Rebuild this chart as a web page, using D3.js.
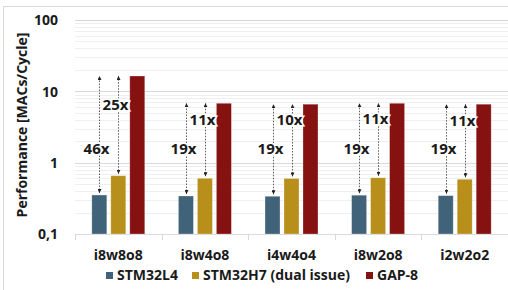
<!DOCTYPE html>
<html>
<head>
<meta charset="utf-8">
<script src="https://cdn.jsdelivr.net/npm/d3@7"></script>
<style>
  body { margin: 0; background: #fff; }
  text { font-family: "Open Sans", sans-serif; font-weight: bold; fill: #1a1a1a; }
</style>
</head>
<body>
<script>
var CATEGORIAS = ["i8w8o8", "i8w4o8", "i4w4o4", "i8w2o8", "i2w2o2"];
var SERIES = ["STM32L4", "STM32H7 (dual issue)", "GAP-8"];
var COLORES = ["#41637a", "#b88f1a", "#861111"];

var STM32L4 = [0.352, 0.341, 0.338, 0.35, 0.345];
var STM32H7 = [0.656, 0.604, 0.60, 0.614, 0.585];
var GAP8 = [16.4, 6.8, 6.6, 6.8, 6.6];

var RATIO_L4 = ["46x", "19x", "19x", "19x", "19x"];
var RATIO_H7 = ["25x", "11x", "10x", "11x", "11x"];

var Y_TICKS = [0.1, 1, 10, 100];
var Y_TICK_LABELS = ["0,1", "1", "10", "100"];

var width = 508, height = 290;
var margin = { top: 20, right: 0, bottom: 56, left: 75 };

var svg = d3.select("body").append("svg").attr("width", width).attr("height", height);

// marco del gráfico
svg.append("rect").attr("x", 3.5).attr("y", 6.5).attr("width", 600).attr("height", 400)
  .attr("fill", "none").attr("stroke", "#d9d9d9");

var x = d3.scaleBand().domain(CATEGORIAS).range([margin.left, width - margin.right]);
var xs = d3.scaleBand().domain(SERIES).range([0, x.bandwidth()]).paddingInner(0.21).paddingOuter(0.886);
var y = d3.scaleLog().domain([0.1, 100]).range([height - margin.bottom, margin.top]);

// grilla menor
var menores = [];
[0.1, 1, 10].forEach(function (d) {
  for (var k = 2; k <= 9; k++) menores.push(d * k);
});
svg.append("g").selectAll("line").data(menores).enter().append("line")
  .attr("x1", margin.left).attr("x2", width - margin.right)
  .attr("y1", function (d) { return Math.round(y(d)) + 0.5; })
  .attr("y2", function (d) { return Math.round(y(d)) + 0.5; })
  .attr("stroke", "#efefef");

// grilla mayor
svg.append("g").selectAll("line").data(Y_TICKS.slice(1)).enter().append("line")
  .attr("x1", margin.left).attr("x2", width - margin.right)
  .attr("y1", function (d) { return Math.round(y(d)) + 0.5; })
  .attr("y2", function (d) { return Math.round(y(d)) + 0.5; })
  .attr("stroke", "#d9d9d9");

// eje y
var yAxis = svg.append("g").attr("transform", "translate(" + (margin.left - 14) + ",0)")
  .call(d3.axisLeft(y).tickValues(Y_TICKS).tickSize(0).tickFormat(function (d, i) { return Y_TICK_LABELS[i]; }));
yAxis.select(".domain").remove();
yAxis.selectAll("text").attr("font-size", 14).attr("fill", "#1a1a1a").attr("dy", "0.35em");

// eje x
var xAxis = svg.append("g").attr("transform", "translate(0," + (height - margin.bottom) + ")")
  .call(d3.axisBottom(x).tickSize(0).tickPadding(16));
xAxis.select(".domain").attr("stroke", "#d9d9d9").attr("d", "M" + margin.left + ",0.5H" + (width - margin.right));
xAxis.selectAll("text").attr("font-size", 14).attr("fill", "#1a1a1a");
xAxis.selectAll(".sep").data(CATEGORIAS).enter().append("line").attr("class", "sep")
  .attr("x1", function (d) { return Math.round(x(d)) + 0.5; })
  .attr("x2", function (d) { return Math.round(x(d)) + 0.5; })
  .attr("y1", 0).attr("y2", 6).attr("stroke", "#d9d9d9");

// barras
var valores = [STM32L4, STM32H7, GAP8];
var filas = [];
CATEGORIAS.forEach(function (c, i) {
  SERIES.forEach(function (s, j) {
    filas.push({ cat: c, serie: s, color: COLORES[j], v: valores[j][i] });
  });
});
svg.append("g").selectAll("rect").data(filas).enter().append("rect")
  .attr("x", function (d) { return x(d.cat) + xs(d.serie); })
  .attr("y", function (d) { return y(d.v); })
  .attr("width", xs.bandwidth())
  .attr("height", function (d) { return y(0.1) - y(d.v); })
  .attr("fill", function (d) { return d.color; })
  .attr("stroke", "rgba(255,255,255,0.35)").attr("stroke-width", 0.8);

// flechas de aceleración
var defs = svg.append("defs");
defs.append("marker").attr("id", "punta").attr("viewBox", "0 0 10 10").attr("refX", 10).attr("refY", 5)
  .attr("markerWidth", 5).attr("markerHeight", 5).attr("orient", "auto-start-reverse")
  .append("path").attr("d", "M0,0L10,5L0,10z").attr("fill", "#222");

var flechas = svg.append("g");
CATEGORIAS.forEach(function (c, i) {
  var top = y(GAP8[i]);
  [[STM32L4, RATIO_L4, SERIES[0]], [STM32H7, RATIO_H7, SERIES[1]]].forEach(function (par, k) {
    var cx = Math.round(x(c) + xs(par[2]) + xs.bandwidth() / 2) + 0.5;
    flechas.append("line")
      .attr("x1", cx).attr("x2", cx)
      .attr("y1", y(par[0][i]) - 2).attr("y2", top)
      .attr("stroke", "#333").attr("stroke-width", 0.8).attr("stroke-dasharray", "1.5,1.5")
      .attr("marker-start", "url(#punta)").attr("marker-end", "url(#punta)");
    var ly = k === 0 ? y(1.55) : y(2 * Math.sqrt(GAP8[i] * par[0][i]));
    flechas.append("text").attr("x", cx - 3).attr("y", ly).attr("dy", "0.35em")
      .attr("text-anchor", "middle").attr("font-size", 15)
      .attr("stroke", "#fff").attr("stroke-width", 3).attr("paint-order", "stroke")
      .text(par[1][i]);
  });
});

// título eje y
svg.append("text").attr("transform", "translate(27," + 125 + ") rotate(-90)")
  .attr("text-anchor", "middle").attr("font-size", 14).text("Performance [MACs/Cycle]");

// leyenda
var leyendaX = [106, 192, 366];
var leyenda = svg.append("g").attr("transform", "translate(0,272)");
SERIES.forEach(function (s, i) {
  leyenda.append("rect").attr("x", leyendaX[i]).attr("y", 0).attr("width", 7).attr("height", 7).attr("fill", COLORES[i]);
  leyenda.append("text").attr("x", leyendaX[i] + 11).attr("y", 3.5).attr("dy", "0.35em").attr("font-size", 14).text(s);
});
</script>
</body>
</html>
